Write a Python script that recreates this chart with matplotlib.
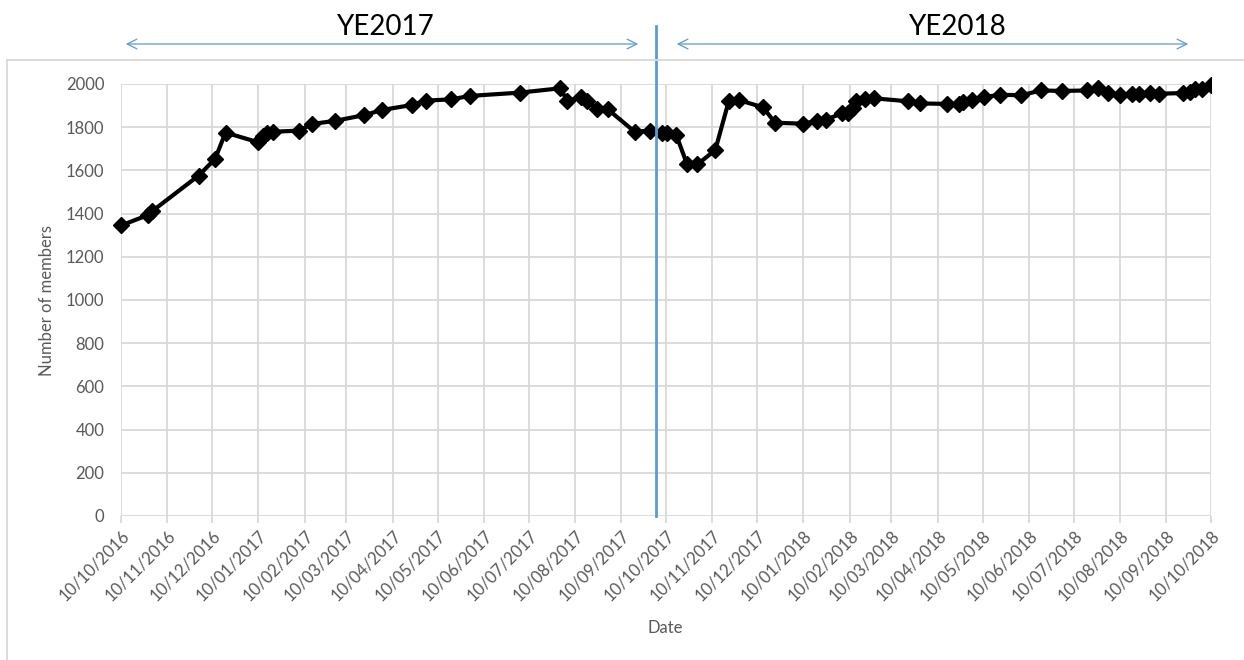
import numpy as np
import matplotlib.pyplot as plt
import matplotlib.dates as mdates
from matplotlib.patches import Rectangle
import pandas as pd

plt.rcParams['font.family'] = ['Lato', 'DejaVu Sans']

# membership counts
datas = ["2016-10-10", "2016-10-28", "2016-10-31", "2016-12-01", "2016-12-12", "2016-12-19",
         "2017-01-10", "2017-01-13", "2017-01-16", "2017-01-20", "2017-02-06", "2017-02-15",
         "2017-03-02", "2017-03-22", "2017-04-03", "2017-04-23", "2017-05-02", "2017-05-19",
         "2017-06-01", "2017-07-04", "2017-07-31", "2017-08-05", "2017-08-14", "2017-08-18",
         "2017-08-25", "2017-09-01", "2017-09-19", "2017-09-29", "2017-10-07", "2017-10-11",
         "2017-10-17", "2017-10-24", "2017-10-31", "2017-11-12", "2017-11-21", "2017-11-28",
         "2017-12-14", "2017-12-22", "2018-01-10", "2018-01-19", "2018-01-25", "2018-02-05",
         "2018-02-09", "2018-02-12", "2018-02-14", "2018-02-20", "2018-02-26", "2018-03-21",
         "2018-03-29", "2018-04-16", "2018-04-24", "2018-04-27", "2018-05-03", "2018-05-11",
         "2018-05-22", "2018-06-05", "2018-06-18", "2018-07-02", "2018-07-19", "2018-07-26",
         "2018-08-02", "2018-08-10", "2018-08-18", "2018-08-23", "2018-08-30", "2018-09-05",
         "2018-09-21", "2018-09-26", "2018-09-29", "2018-10-04", "2018-10-10"]
membros = [1345, 1393, 1412, 1576, 1653, 1775,
           1730, 1759, 1772, 1779, 1784, 1815,
           1829, 1856, 1880, 1903, 1923, 1929,
           1945, 1960, 1980, 1923, 1938, 1923,
           1883, 1883, 1779, 1784, 1774, 1774,
           1762, 1630, 1628, 1694, 1920, 1925,
           1892, 1821, 1816, 1830, 1835, 1864,
           1866, 1890, 1922, 1930, 1934, 1920,
           1910, 1908, 1907, 1918, 1926, 1940,
           1950, 1948, 1970, 1968, 1970, 1980,
           1960, 1950, 1952, 1952, 1958, 1955,
           1958, 1965, 1975, 1978, 1995]

inicio, fim = "2016-10-10", "2018-10-10"
divisao = "2017-10-03"          # year-end separator
periodos = ["YE2017", "YE2018"]

cinza = "#595959"
grade = "#d9d9d9"
azul = "#5b9bd5"

fig = plt.figure(figsize=(12.44, 6.6), dpi=100)
W, H = 1244, 660
ax = fig.add_axes([121 / W, 1 - 516 / H, (1211 - 121) / W, (516 - 84) / H])

x = pd.to_datetime(datas)
linha, = ax.plot(x, membros, color="black", lw=3, marker="D", ms=8.5, zorder=5)
# clip only on the right side, like the original
clip = Rectangle((0, 0), 1211 / W, 1, transform=fig.transFigure, visible=False)
fig.add_artist(clip)
linha.set_clip_path(clip)

ax.set_xlim(pd.Timestamp(inicio), pd.Timestamp(fim))
ax.set_ylim(0, 2000)
ax.set_yticks(np.arange(0, 2001, 200))
ax.xaxis.set_major_locator(mdates.MonthLocator(bymonthday=10))
ax.xaxis.set_major_formatter(mdates.DateFormatter("%d/%m/%Y"))
ax.grid(True, color=grade, lw=1.3)
ax.set_axisbelow(True)
for s in ax.spines.values():
    s.set_visible(False)
ax.tick_params(axis="x", colors=grade, length=5, width=1.3, labelcolor=cinza, labelsize=12, pad=3)
ax.tick_params(axis="y", length=0, labelcolor=cinza, labelsize=12, pad=12)
for lab in ax.get_xticklabels():
    lab.set_rotation(45)
    lab.set_ha("right")
    lab.set_rotation_mode("anchor")

fig.text(47 / W, 1 - 300 / H, "Number of members", rotation=90, ha="center", va="center",
         color=cinza, fontsize=12)
fig.text(665 / W, 1 - 628 / H, "Date", ha="center", va="center", color=cinza, fontsize=12)

# separator line and period arrows
ax.axvline(pd.Timestamp(divisao), ymin=0, ymax=(516 - 26) / 432, color=azul, lw=2, clip_on=False, zorder=6)
seta = dict(arrowstyle="<->,head_length=0.7,head_width=0.35", color=azul, lw=0.9)
ax.annotate("", xy=(641 / W, 1 - 44 / H), xytext=(123 / W, 1 - 44 / H), xycoords="figure fraction",
            arrowprops=seta)
ax.annotate("", xy=(1191 / W, 1 - 44 / H), xytext=(674 / W, 1 - 44 / H), xycoords="figure fraction",
            arrowprops=seta)
fig.text(385 / W, 1 - 27 / H, periodos[0], ha="center", va="center", fontsize=20)
fig.text(957 / W, 1 - 27 / H, periodos[1], ha="center", va="center", fontsize=20)

# chart border
fig.add_artist(plt.Line2D([7 / W, 1], [1 - 60 / H, 1 - 60 / H], color=grade, lw=1.3))
fig.add_artist(plt.Line2D([7 / W, 7 / W], [0, 1 - 60 / H], color=grade, lw=1.3))

fig.savefig("out.png", dpi=100)
